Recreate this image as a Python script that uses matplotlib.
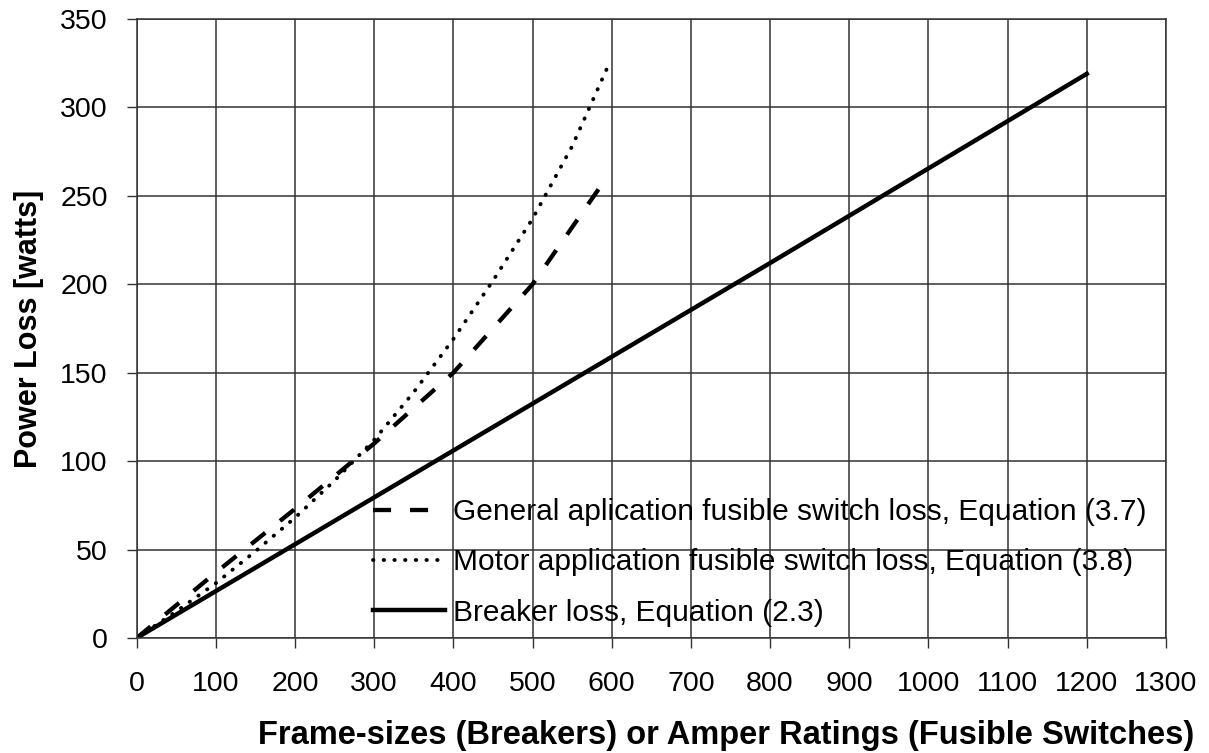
import matplotlib
matplotlib.use("Agg")
import matplotlib.pyplot as plt
from matplotlib.ticker import MultipleLocator

plt.rcParams["font.family"] = ["Liberation Sans", "DejaVu Sans"]

# general application fusible switch loss, Eq. (3.7)
gen_amps = [0, 100, 200, 300, 400, 500, 590]
gen_loss = [0, 37, 73, 110, 150, 200, 258]

# motor application fusible switch loss, Eq. (3.8)
mot_amps = [0, 50, 100, 150, 200, 250, 300, 350, 400, 450, 500, 550, 595]
mot_loss = [0, 15, 31, 49, 68, 89, 112, 139, 169, 202, 237, 278, 323]

# breaker loss, Eq. (2.3)
brk_amps = [0, 100, 225, 400, 600, 800, 1200]
brk_loss = [0, 26.5, 59.6, 106, 159, 212, 319]

labels = ["General aplication fusible switch loss, Equation (3.7)",
          "Motor application fusible switch loss, Equation (3.8)",
          "Breaker loss, Equation (2.3)"]

fig = plt.figure(figsize=(12.09, 7.53), dpi=100)
ax = fig.add_axes([0.113, 0.1527, 0.8514, 0.8221])

ax.plot(gen_amps, gen_loss, color="black", linewidth=3.1,
        linestyle=(0, (4.2, 4.4)), label=labels[0])
ax.plot(mot_amps, mot_loss, color="black", linewidth=2.8,
        linestyle=(0, (0.1, 2.65)), dash_capstyle="round", label=labels[1])
ax.plot(brk_amps, brk_loss, color="black", linewidth=3.2, label=labels[2])

ax.set_xlim(0, 1300)
ax.set_ylim(0, 350)
ax.xaxis.set_major_locator(MultipleLocator(100))
ax.yaxis.set_major_locator(MultipleLocator(50))
ax.grid(True, color="#333333", linewidth=1.1)
ax.set_axisbelow(True)
for s in ax.spines.values():
    s.set_color("#333333")
    s.set_linewidth(1.1)
ax.tick_params(direction="out", length=7.2, width=1, color="#333333",
               labelsize=20.5)
ax.tick_params(axis="y", pad=13.5)
ax.tick_params(axis="x", pad=16.8)

ax.set_ylabel("Power Loss [watts]", fontsize=22, fontweight="bold", labelpad=12)
ax.set_xlabel("Frame-sizes (Breakers) or Amper Ratings (Fusible Switches)",
              fontsize=23.5, fontweight="bold")
ax.xaxis.set_label_coords(0.5725, -0.133)
ax.xaxis.label.set_va("top")

leg = ax.legend(loc="lower left", bbox_to_anchor=(0.2296, 0.018), frameon=False,
                fontsize=21.5, handlelength=2.4, handletextpad=0.27,
                labelspacing=0.75, borderaxespad=0, borderpad=0)

fig.savefig("out.png", dpi=100)
